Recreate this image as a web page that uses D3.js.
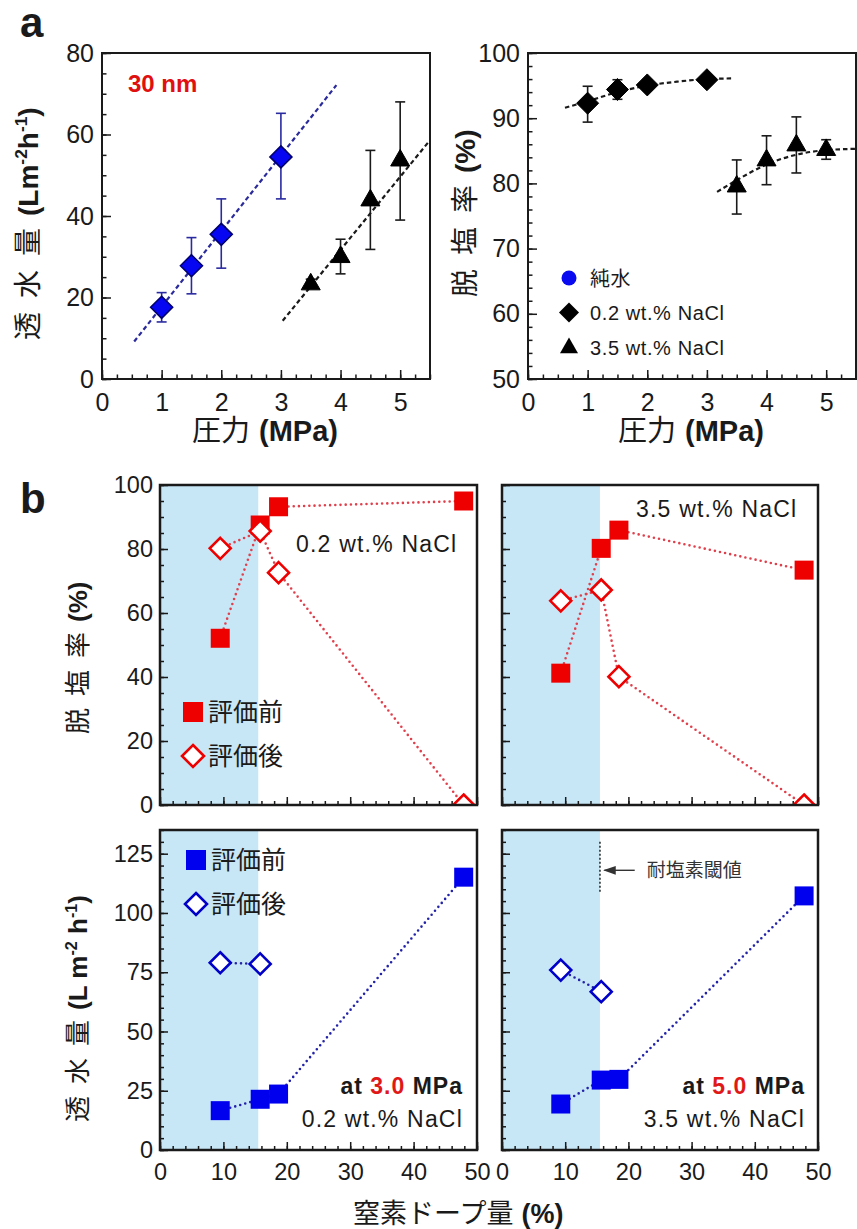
<!DOCTYPE html>
<html>
<head>
<meta charset="utf-8">
<script src="https://cdn.jsdelivr.net/npm/d3@7"></script>
<style>
  body { margin: 0; background: #fff; }
  svg { display: block; }
</style>
</head>
<body>
<script>
// ---- panel a : flux and rejection vs pressure ----
const pressPure = [1, 1.5, 2, 3];
const fluxPure = [17.6, 27.8, 35.5, 54.5];
const fluxPureLo = [14.0, 20.9, 27.2, 44.2];
const fluxPureHi = [21.2, 34.7, 44.2, 65.2];
const pressSea = [3.5, 4, 4.5, 5];
const fluxSea = [23.5, 30.2, 44.1, 53.9];
const fluxSeaLo = [22.5, 25.8, 31.8, 39.0];
const fluxSeaHi = [24.5, 34.3, 56.1, 68.0];
const fitPureP = [0.54, 3.93], fitPureF = [9.2, 72.1];
const fitSeaP = [3.03, 5.5], fitSeaF = [14.3, 58.6];

const pressLow = [1, 1.5, 2, 3];
const rejLow = [92.3, 94.4, 95.1, 95.9];
const rejLowLo = [89.4, 92.9, 94.3, 95.9];
const rejLowHi = [94.9, 95.9, 95.9, 95.9];
const rejSea = [79.7, 83.7, 86.0, 85.3];
const rejSeaLo = [75.3, 79.8, 81.6, 83.7];
const rejSeaHi = [83.6, 87.3, 90.2, 86.7];
const fitLowP = [0.62, 1, 1.5, 2, 2.5, 3, 3.45];
const fitLowR = [91.6, 92.6, 94.0, 95.0, 95.6, 96.0, 96.1];
const fitSeaRP = [3.17, 3.5, 4, 4.5, 5, 5.5];
const fitSeaR = [78.7, 80.5, 82.9, 84.4, 85.1, 85.3];
const legendA = ["純水", "0.2 wt.% NaCl", "3.5 wt.% NaCl"];

// ---- panel b : vs nitrogen doping ----
const dope02 = [9.5, 15.8, 18.7, 47.9];
const dope35 = [9.3, 15.7, 18.5, 47.8];
const rejBefore02 = [52.1, 87.5, 93.2, 95.0];
const rejAfter02 = [80.2, 85.6, 72.6, 0];
const rejBefore35 = [41.2, 80.2, 85.9, 73.4];
const rejAfter35 = [63.8, 67.2, 40.1, 0];
const fluxBefore30 = [16.6, 21.4, 23.6, 115.1];
const fluxAfter30 = [79.0, 78.5];
const fluxBefore50 = [19.4, 29.5, 29.8, 107.2];
const fluxAfter50 = [75.9, 66.8];
const threshold = 15.5;
const threshFlux = [109, 130];   // extent of the dashed mark
const arrowDope = [21, 16.2], arrowFlux = 118;
const legendB = ["評価前", "評価後"];

const FONT = "'Liberation Sans', Arial, 'Noto Sans CJK JP', sans-serif";
const ink = "#1a1a1a";
const red = "#ee0000", redDot = "#e0404c";
const blue = "#0000ee", blueDot = "#2323a8";
const shade = "#c7e7f7";

const svg = d3.select("body").append("svg")
  .attr("width", 857).attr("height", 1229)
  .attr("font-family", FONT);

const defs = svg.append("defs");
defs.append("marker").attr("id", "arr")
  .attr("viewBox", "0 0 10 10").attr("refX", 9).attr("refY", 5)
  .attr("markerWidth", 9).attr("markerHeight", 9).attr("orient", "auto")
  .append("path").attr("d", "M0,1.5L10,5L0,8.5Z").attr("fill", "#333");

const diamond = r => `M0,${-r}L${r},0L0,${r}L${-r},0Z`;
const square = s => `M${-s / 2},${-s / 2}h${s}v${s}h${-s}Z`;
const triangle = w => { const h = w * 0.87; return `M0,${-h * 0.6}L${w / 2},${h * 0.4}L${-w / 2},${h * 0.4}Z`; };

let clipN = 0;
function panel(x, y, o) {
  const [xa, xb] = x.range(), [ya, yb] = y.range();
  const g = svg.append("g");
  const id = "clip" + clipN++;
  defs.append("clipPath").attr("id", id).append("rect")
    .attr("x", xa).attr("y", yb).attr("width", xb - xa).attr("height", ya - yb);
  const bg = g.append("g");
  const ax = g.append("g");

  const gx = ax.append("g").attr("transform", `translate(0,${ya})`);
  gx.append("g").call(d3.axisBottom(x).tickValues(o.xMinor).tickSize(-o.minor).tickFormat(""));
  gx.append("g").call(d3.axisBottom(x).tickValues(o.xMajor).tickSize(-o.major)
    .tickPadding(o.padX).tickFormat(o.xLab ? d3.format("d") : ""));
  const gy = ax.append("g").attr("transform", `translate(${xa},0)`);
  gy.append("g").call(d3.axisLeft(y).tickValues(o.yMinor).tickSize(-o.minor).tickFormat(""));
  gy.append("g").call(d3.axisLeft(y).tickValues(o.yMajor).tickSize(-o.major)
    .tickPadding(o.padY).tickFormat(o.yLab ? d3.format("d") : ""));
  ax.selectAll(".domain").remove();
  ax.selectAll(".tick line").attr("stroke", ink).attr("stroke-width", o.tw);
  ax.selectAll(".tick text").attr("font-family", FONT).attr("font-size", o.fs).attr("fill", ink);

  const plot = g.append("g").attr("clip-path", `url(#${id})`);
  const top = g.append("g");
  top.append("rect").attr("x", xa).attr("y", yb).attr("width", xb - xa).attr("height", ya - yb)
    .attr("fill", "none").attr("stroke", ink).attr("stroke-width", o.fw);
  return { g, bg, plot, top };
}

function richText(g, segs, fs) {
  const t = g.append("text").attr("font-size", fs).attr("fill", ink);
  let up = false;
  segs.forEach(s => {
    const ts = t.append("tspan").text(s.t).attr("font-weight", s.b ? "bold" : "normal");
    if (s.fill) ts.attr("fill", s.fill);
    let dy = 0;
    if (s.sup) { ts.attr("font-size", fs * 0.62); if (!up) dy = -fs * 0.38; up = true; }
    else if (up) { dy = fs * 0.38; up = false; }
    if (dy) ts.attr("dy", dy);
    if (s.dx) ts.attr("dx", s.dx);
  });
  return t;
}

function errorBars(p, x, y, xs, lo, hi, color) {
  xs.forEach((d, i) => {
    const cx = x(d), a = y(lo[i]), b = y(hi[i]);
    if (Math.abs(a - b) < 1) return;
    const eb = p.append("g").attr("stroke", color).attr("stroke-width", 1.6);
    eb.append("line").attr("x1", cx).attr("x2", cx).attr("y1", a).attr("y2", b);
    eb.append("line").attr("x1", cx - 5).attr("x2", cx + 5).attr("y1", a).attr("y2", a);
    eb.append("line").attr("x1", cx - 5).attr("x2", cx + 5).attr("y1", b).attr("y2", b);
  });
}

function marks(p, x, y, xs, ys, d, fill, stroke, sw) {
  p.selectAll(null).data(ys).join("path")
    .attr("transform", (v, i) => `translate(${x(xs[i])},${y(v)})`)
    .attr("d", d).attr("fill", fill).attr("stroke", stroke).attr("stroke-width", sw);
}

function dotted(p, x, y, xs, ys, color) {
  p.append("path").attr("d", d3.line().x((v, i) => x(xs[i])).y(v => y(v))(ys))
    .attr("fill", "none").attr("stroke", color).attr("stroke-width", 2.6)
    .attr("stroke-linecap", "round").attr("stroke-dasharray", "0 5.2");
}

function fit(p, x, y, xs, ys, color, curve) {
  p.append("path").attr("d", d3.line().curve(curve || d3.curveLinear).x((v, i) => x(xs[i])).y(v => y(v))(ys))
    .attr("fill", "none").attr("stroke", color).attr("stroke-width", 2.2).attr("stroke-dasharray", "4.5 3");
}

// ---------- panel a ----------
const optA = {
  xMajor: d3.range(0, 6), xMinor: d3.range(0, 5.51, 0.25), major: 9, minor: 4.5,
  padX: 14, padY: 8, xLab: true, yLab: true, tw: 1.5, fw: 2, fs: 25
};
const xA1 = d3.scaleLinear([0, 5.5], [102, 430]);
const yA1 = d3.scaleLinear([0, 80], [379, 53]);
const a1 = panel(xA1, yA1, { ...optA, yMajor: d3.range(0, 81, 20), yMinor: d3.range(0, 81, 5) });
fit(a1.plot, xA1, yA1, fitPureP, fitPureF, "#2a2a9c");
fit(a1.plot, xA1, yA1, fitSeaP, fitSeaF, ink);
errorBars(a1.plot, xA1, yA1, pressPure, fluxPureLo, fluxPureHi, "#2a2aa0");
errorBars(a1.plot, xA1, yA1, pressSea, fluxSeaLo, fluxSeaHi, ink);
marks(a1.plot, xA1, yA1, pressPure, fluxPure, diamond(11), "#0606f2", "#00006e", 1.6);
marks(a1.plot, xA1, yA1, pressSea, fluxSea, triangle(19), "#000", "#000", 1);
a1.top.append("text").attr("x", 128).attr("y", 92).attr("font-size", 24).attr("font-weight", "bold")
  .attr("fill", "#e01010").text("30 nm");

const xA2 = d3.scaleLinear([0, 5.5], [528, 856]);
const yA2 = d3.scaleLinear([50, 100], [379, 53]);
const a2 = panel(xA2, yA2, { ...optA, yMajor: d3.range(50, 101, 10), yMinor: d3.range(50, 101, 2) });
fit(a2.plot, xA2, yA2, fitLowP, fitLowR, ink, d3.curveMonotoneX);
fit(a2.plot, xA2, yA2, fitSeaRP, fitSeaR, ink, d3.curveMonotoneX);
errorBars(a2.plot, xA2, yA2, pressLow, rejLowLo, rejLowHi, ink);
errorBars(a2.plot, xA2, yA2, pressSea, rejSeaLo, rejSeaHi, ink);
marks(a2.plot, xA2, yA2, pressLow, rejLow, diamond(11), "#000", "#000", 1);
marks(a2.plot, xA2, yA2, pressSea, rejSea, triangle(19), "#000", "#000", 1);

const legA = a2.top.append("g").attr("font-size", 20).attr("fill", ink);
const legSym = [
  g => g.append("circle").attr("r", 7.5).attr("fill", "#0a0af0"),
  g => g.append("path").attr("d", diamond(10)).attr("fill", "#000"),
  g => g.append("path").attr("d", triangle(18)).attr("fill", "#000")
];
legendA.forEach((name, i) => {
  const row = legA.append("g").attr("transform", `translate(569,${278 + i * 34.5})`);
  legSym[i](row);
  row.append("text").attr("x", 21).attr("y", 7.5).attr("letter-spacing", 0.6).text(name);
});

// axis titles a
richText(svg.append("g").attr("transform", "translate(38,340) rotate(-90)"), [
  { t: "透" }, { t: "水", dx: 14 }, { t: "量", dx: 14 },
  { t: "(Lm", b: true, dx: 12 }, { t: "-2", b: true, sup: true }, { t: "h", b: true },
  { t: "-1", b: true, sup: true }, { t: ")", b: true }
], 28);
richText(svg.append("g").attr("transform", "translate(475,297) rotate(-90)"), [
  { t: "脱" }, { t: "塩", dx: 14 }, { t: "率", dx: 14 }, { t: "(%)", b: true, dx: 12 }
], 28);
richText(svg.append("g").attr("transform", "translate(192,441)"), [
  { t: "圧力" }, { t: "(MPa)", b: true, dx: 9 }
], 29);
richText(svg.append("g").attr("transform", "translate(618,441)"), [
  { t: "圧力" }, { t: "(MPa)", b: true, dx: 9 }
], 29);
svg.append("text").attr("x", 20).attr("y", 37).attr("font-size", 42).attr("font-weight", "bold")
  .attr("fill", ink).text("a");

// ---------- panel b ----------
const optB = {
  xMajor: d3.range(0, 51, 10), xMinor: d3.range(0, 51, 2), major: 8, minor: 4,
  padX: 13, padY: 7, tw: 1.5, fw: 2.5, fs: 23.5
};
const xBL = d3.scaleLinear([0, 50], [160, 477]);
const xBR = d3.scaleLinear([0, 50], [502, 818]);
const yBT = d3.scaleLinear([0, 100], [805, 485]);
const yBB = d3.scaleLinear([0, 135], [1150, 830]);
const optTop = { ...optB, yMajor: d3.range(0, 101, 20), yMinor: d3.range(0, 101, 5), xLab: false };
const optBot = { ...optB, yMajor: d3.range(0, 126, 25), yMinor: d3.range(0, 136, 5), xLab: true };

const bTL = panel(xBL, yBT, { ...optTop, yLab: true });
const bTR = panel(xBR, yBT, { ...optTop, yLab: false });
const bBL = panel(xBL, yBB, { ...optBot, yLab: true });
const bBR = panel(xBR, yBB, { ...optBot, yLab: false });

[[bTL, xBL, yBT], [bTR, xBR, yBT], [bBL, xBL, yBB], [bBR, xBR, yBB]].forEach(([p, x, y]) => {
  p.bg.append("rect").attr("x", x(0)).attr("y", y.range()[1])
    .attr("width", x(threshold) - x(0)).attr("height", y.range()[0] - y.range()[1])
    .attr("fill", shade);
});

// top row: rejection
dotted(bTL.plot, xBL, yBT, dope02, rejBefore02, redDot);
dotted(bTL.plot, xBL, yBT, dope02, rejAfter02, redDot);
marks(bTL.plot, xBL, yBT, dope02, rejBefore02, square(19), red, "none", 0);
marks(bTL.plot, xBL, yBT, dope02, rejAfter02, diamond(10.5), "#fff", red, 2.6);

dotted(bTR.plot, xBR, yBT, dope35, rejBefore35, redDot);
dotted(bTR.plot, xBR, yBT, dope35, rejAfter35, redDot);
marks(bTR.plot, xBR, yBT, dope35, rejBefore35, square(19), red, "none", 0);
marks(bTR.plot, xBR, yBT, dope35, rejAfter35, diamond(10.5), "#fff", red, 2.6);

// bottom row: flux
dotted(bBL.plot, xBL, yBB, dope02, fluxBefore30, blueDot);
dotted(bBL.plot, xBL, yBB, dope02.slice(0, 2), fluxAfter30, blueDot);
marks(bBL.plot, xBL, yBB, dope02, fluxBefore30, square(19), blue, "none", 0);
marks(bBL.plot, xBL, yBB, dope02.slice(0, 2), fluxAfter30, diamond(10.5), "#fff", "#0000c8", 2.6);

dotted(bBR.plot, xBR, yBB, dope35, fluxBefore50, blueDot);
dotted(bBR.plot, xBR, yBB, dope35.slice(0, 2), fluxAfter50, blueDot);
marks(bBR.plot, xBR, yBB, dope35, fluxBefore50, square(19), blue, "none", 0);
marks(bBR.plot, xBR, yBB, dope35.slice(0, 2), fluxAfter50, diamond(10.5), "#fff", "#0000c8", 2.6);

// threshold annotation
bBR.top.append("line").attr("x1", xBR(threshold)).attr("x2", xBR(threshold))
  .attr("y1", yBB(threshFlux[0])).attr("y2", yBB(threshFlux[1]))
  .attr("stroke", "#222").attr("stroke-width", 1.5).attr("stroke-dasharray", "2 2");
bBR.top.append("line").attr("x1", xBR(arrowDope[0])).attr("x2", xBR(arrowDope[1]))
  .attr("y1", yBB(arrowFlux)).attr("y2", yBB(arrowFlux))
  .attr("stroke", "#333").attr("stroke-width", 1.4).attr("marker-end", "url(#arr)");
bBR.top.append("text").attr("x", xBR(arrowDope[0]) + 12).attr("y", yBB(arrowFlux) + 7)
  .attr("font-size", 19).attr("fill", "#333").text("耐塩素閾値");

// legends b
function legendRows(g, x0, y0, fill, stroke) {
  legendB.forEach((name, i) => {
    const row = g.append("g").attr("transform", `translate(${x0},${y0 + i * 44})`);
    if (i === 0) row.append("path").attr("d", square(20)).attr("fill", fill);
    else row.append("path").attr("d", diamond(11)).attr("fill", "#fff").attr("stroke", stroke).attr("stroke-width", 2.6);
    row.append("text").attr("x", 15).attr("y", 9).attr("font-size", 25).attr("fill", ink).text(name);
  });
}
legendRows(bTL.top, 193, 712, red, red);
legendRows(bBL.top, 196, 860, blue, "#0000c8");

// condition labels
bTL.top.append("text").attr("x", 296).attr("y", 552).attr("font-size", 23).attr("letter-spacing", 1.2)
  .attr("fill", ink).text("0.2 wt.% NaCl");
bTR.top.append("text").attr("x", 636).attr("y", 517).attr("font-size", 23).attr("letter-spacing", 1.2)
  .attr("fill", ink).text("3.5 wt.% NaCl");
[[bBL, 463, "3.0", "0.2 wt.% NaCl"], [bBR, 805, "5.0", "3.5 wt.% NaCl"]].forEach(([p, xr, mp, salt]) => {
  richText(p.top.append("g").attr("transform", `translate(${xr},1094)`), [
    { t: "at ", b: true }, { t: mp, b: true, fill: "#e01818" }, { t: " MPa", b: true }
  ], 23).attr("text-anchor", "end").attr("letter-spacing", 1);
  p.top.append("text").attr("x", xr).attr("y", 1127).attr("text-anchor", "end").attr("font-size", 23)
    .attr("letter-spacing", 1.2).attr("fill", ink).text(salt);
});

// axis titles b
richText(svg.append("g").attr("transform", "translate(87,734) rotate(-90)"), [
  { t: "脱" }, { t: "塩", dx: 12 }, { t: "率", dx: 12 }, { t: "(%)", b: true, dx: 10 }
], 26);
richText(svg.append("g").attr("transform", "translate(87,1122) rotate(-90)"), [
  { t: "透" }, { t: "水", dx: 12 }, { t: "量", dx: 12 },
  { t: "(L m", b: true, dx: 10 }, { t: "-2", b: true, sup: true }, { t: " h", b: true },
  { t: "-1", b: true, sup: true }, { t: ")", b: true }
], 26);
richText(svg.append("g").attr("transform", "translate(353,1223)"), [
  { t: "窒素ドープ量" }, { t: "(%)", b: true, dx: 8 }
], 27);
svg.append("text").attr("x", 20).attr("y", 513).attr("font-size", 42).attr("font-weight", "bold")
  .attr("fill", ink).text("b");
</script>
</body>
</html>
